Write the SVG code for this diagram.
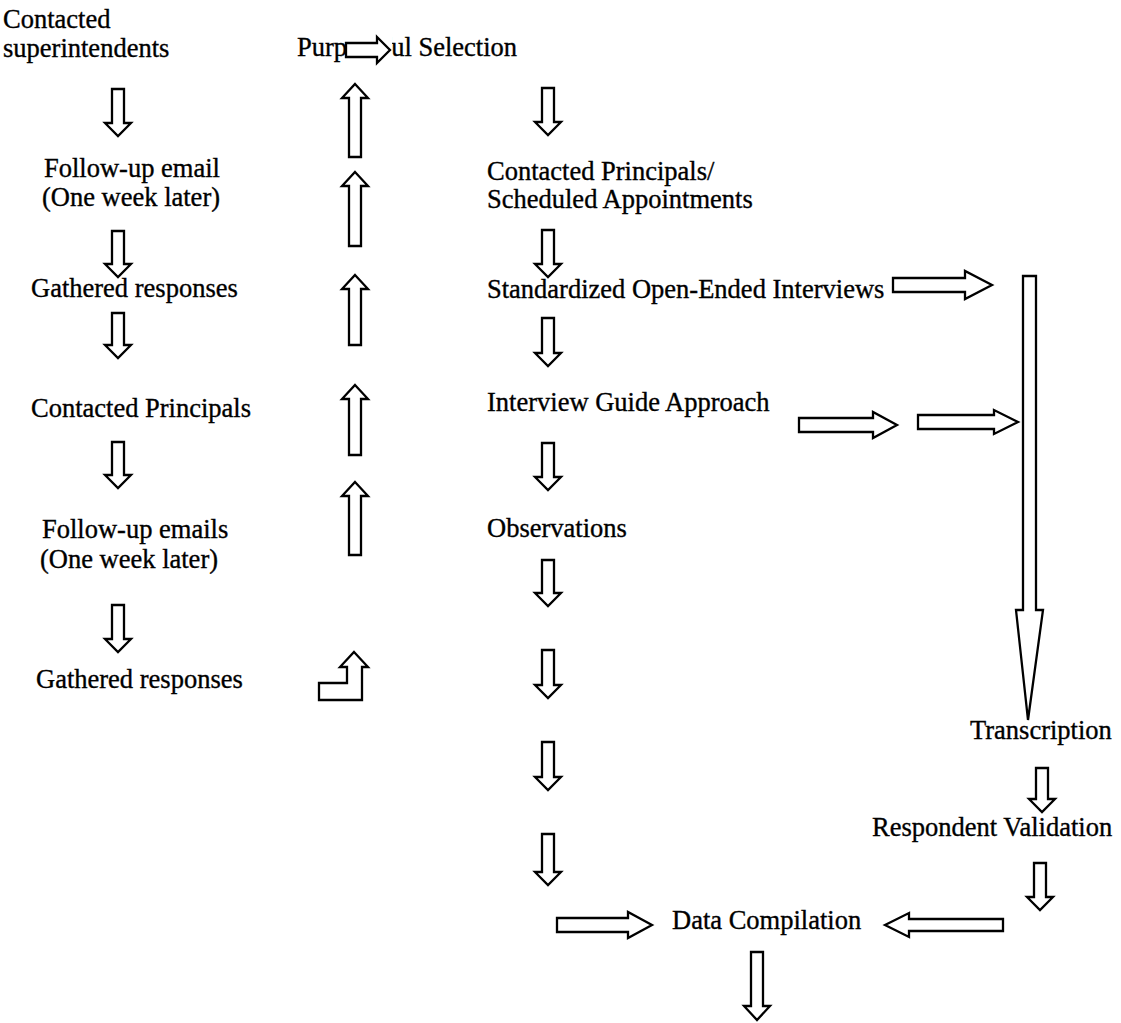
<svg xmlns="http://www.w3.org/2000/svg" width="1121" height="1023" viewBox="0 0 1121 1023">
<style>
  text { font-family: "Liberation Serif", "Times New Roman", serif; font-size: 26.5px; fill: #000; stroke: #000; stroke-width: 0.35; }
  .arrow { fill: #fff; stroke: #000; stroke-width: 2.3; stroke-linejoin: miter; }
</style>
<rect width="1121" height="1023" fill="#fff"/>
<g id="nodes">
  <g id="n-superintendents"><text x="3" y="28">Contacted</text><text x="3" y="57">superintendents</text></g>
  <g id="n-followup1"><text x="44" y="177">Follow-up email</text><text x="42" y="206">(One week later)</text></g>
  <g id="n-gathered1"><text x="31" y="297">Gathered responses</text></g>
  <g id="n-principals"><text x="31" y="417">Contacted Principals</text></g>
  <g id="n-followup2"><text x="42" y="538">Follow-up emails</text><text x="40" y="568">(One week later)</text></g>
  <g id="n-gathered2"><text x="36" y="688">Gathered responses</text></g>
  <g id="n-purposeful"><text x="297" y="56">Purposeful Selection</text></g>
  <g id="n-scheduled"><text x="487" y="180">Contacted Principals/</text><text x="487" y="208">Scheduled Appointments</text></g>
  <g id="n-standardized"><text x="487" y="298">Standardized Open-Ended Interviews</text></g>
  <g id="n-guide"><text x="487" y="411">Interview Guide Approach</text></g>
  <g id="n-observations"><text x="487" y="537">Observations</text></g>
  <g id="n-transcription"><text x="970" y="739">Transcription</text></g>
  <g id="n-validation"><text x="872" y="836">Respondent Validation</text></g>
  <g id="n-compilation"><text x="672" y="929">Data Compilation</text></g>
</g>
<g id="connectors">
  <path class="arrow" d="M112,89 H124 V123 H131 L118,136 L105,123 H112 Z"/>
  <path class="arrow" d="M112,231 H124 V264 H131 L118,277 L105,264 H112 Z"/>
  <path class="arrow" d="M112,313 H124 V345 H131 L118,358 L105,345 H112 Z"/>
  <path class="arrow" d="M112,442 H124 V475 H131 L118,488 L105,475 H112 Z"/>
  <path class="arrow" d="M112,605 H124 V639 H131 L118,652 L105,639 H112 Z"/>
  <path class="arrow" d="M355,84 L368,98 H361 V157 H349 V98 H342 Z"/>
  <path class="arrow" d="M355,172 L368,186 H361 V246 H349 V186 H342 Z"/>
  <path class="arrow" d="M355,275 L368,289 H361 V345 H349 V289 H342 Z"/>
  <path class="arrow" d="M355,385 L368,399 H361 V455 H349 V399 H342 Z"/>
  <path class="arrow" d="M355,482 L368,496 H361 V555 H349 V496 H342 Z"/>
  <path class="arrow" d="M354,652 L368,667 H362 V700 H319 V683 H347 V667 H340 Z"/>
  <rect x="347" y="30" width="45" height="28" fill="#fff"/>
  <path class="arrow" d="M346,43 H377 V37 L390,50 L377,63 V57 H346 Z"/>
  <path class="arrow" d="M542,88 H554 V122 H561 L548,135 L535,122 H542 Z"/>
  <path class="arrow" d="M542,230 H554 V264 H561 L548,277 L535,264 H542 Z"/>
  <path class="arrow" d="M542,318 H554 V353 H561 L548,366 L535,353 H542 Z"/>
  <path class="arrow" d="M542,443 H554 V477 H561 L548,490 L535,477 H542 Z"/>
  <path class="arrow" d="M542,560 H554 V593 H561 L548,606 L535,593 H542 Z"/>
  <path class="arrow" d="M542,650 H554 V685 H561 L548,698 L535,685 H542 Z"/>
  <path class="arrow" d="M542,742 H554 V777 H561 L548,790 L535,777 H542 Z"/>
  <path class="arrow" d="M542,834 H554 V872 H561 L548,885 L535,872 H542 Z"/>
  <path class="arrow" d="M893,278 H965 V271 L992,285 L965,299 V292 H893 Z"/>
  <path class="arrow" d="M799,418 H873 V412 L897,425 L873,438 V432 H799 Z"/>
  <path class="arrow" d="M918,415 H994 V410 L1018,422 L994,434 V429 H918 Z"/>
  <path class="arrow" d="M557,918 H628 V912 L652,925 L628,938 V932 H557 Z"/>
  <path class="arrow" d="M885,925 L909,913 V919 H1003 V931 H909 V937 Z"/>
  <path class="arrow" d="M1023,276 H1036 V610 H1043 L1028,720 L1016,610 H1023 Z"/>
  <path class="arrow" d="M1036,768 H1048 V799 H1055 L1042,812 L1029,799 H1036 Z"/>
  <path class="arrow" d="M1034,863 H1046 V897 H1053 L1040,910 L1027,897 H1034 Z"/>
  <path class="arrow" d="M751,952 H763 V1006 H770 L757,1020 L744,1006 H751 Z"/>
</g>
</svg>
